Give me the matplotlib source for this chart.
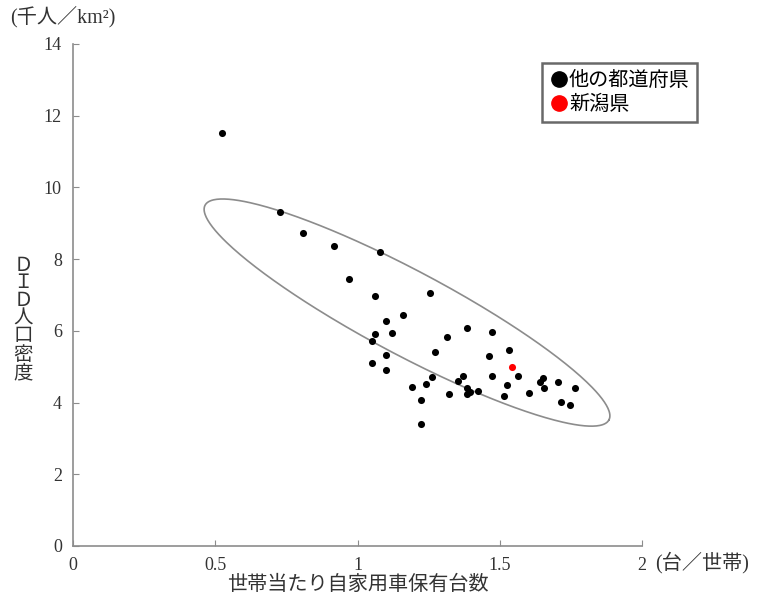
import numpy as np
import matplotlib.pyplot as plt
from matplotlib.lines import Line2D

plt.rcParams['font.family'] = ['Liberation Serif', 'Noto Sans CJK JP']

# 世帯当たり自家用車保有台数 (台/世帯), DID人口密度 (千人/km2)
other_x = [0.524, 0.728, 0.81, 0.918, 0.970, 1.079, 1.061, 1.255, 1.161, 1.100,
           1.061, 1.121, 1.050, 1.100, 1.050, 1.100, 1.193, 1.240, 1.222, 1.222,
           1.384, 1.474, 1.313, 1.272, 1.533, 1.462, 1.474, 1.563, 1.372, 1.263,
           1.354, 1.653, 1.641, 1.656, 1.705, 1.765, 1.384, 1.395, 1.384, 1.425,
           1.322, 1.524, 1.515, 1.604, 1.714, 1.746]
other_y = [11.52, 9.32, 8.72, 8.37, 7.44, 8.19, 6.96, 7.06, 6.44, 6.27,
           5.91, 5.93, 5.71, 5.33, 5.11, 4.92, 4.44, 4.52, 4.07, 3.39,
           6.09, 5.97, 5.82, 5.42, 5.47, 5.31, 4.73, 4.73, 4.73, 4.70,
           4.60, 4.69, 4.56, 4.41, 4.56, 4.42, 4.42, 4.30, 4.23, 4.33,
           4.24, 4.48, 4.19, 4.28, 4.02, 3.92]
niigata_x = [1.544]
niigata_y = [5.00]

xticks = [0, 0.5, 1, 1.5, 2]
xticklabels = ['0', '0.5', '1', '1.5', '2']
yticks = [0, 2, 4, 6, 8, 10, 12, 14]

# ellipse (center in data units, axes in pixels of the original plot)
ell_cx, ell_cy = 1.174, 6.51
ell_a, ell_b, ell_ang = 228.7, 42.0, 28.0
px_x, px_y = 284.5, 35.86

fig = plt.figure(figsize=(7.67, 5.96), dpi=100)
ax = fig.add_axes([73/767, 1-546/596, 569/767, 502/596])

t = np.linspace(0, 2*np.pi, 400)
th = np.radians(ell_ang)
dx = ell_a*np.cos(t)*np.cos(th) - ell_b*np.sin(t)*np.sin(th)
dy = ell_a*np.cos(t)*np.sin(th) + ell_b*np.sin(t)*np.cos(th)
ax.plot(ell_cx + dx/px_x, ell_cy - dy/px_y, color='#8c8c8c', lw=1.2)

ax.scatter(other_x, other_y, s=26, color='black', zorder=3, linewidths=0)
ax.scatter(niigata_x, niigata_y, s=26, color='red', zorder=3, linewidths=0)

ax.set_xlim(0, 2)
ax.set_ylim(0, 14)
ax.set_xticks(xticks)
ax.set_xticklabels(xticklabels)
ax.set_yticks(yticks)
for s in ['top', 'right']:
    ax.spines[s].set_visible(False)
for s in ['left', 'bottom']:
    ax.spines[s].set_color('#8c8c8c')
    ax.spines[s].set_linewidth(1.2)
ax.tick_params(direction='in', length=4, color='#8c8c8c', labelsize=13,
               labelcolor='#333333', pad=8)

fig.text(10/767, 1-17/596, '(千人／km²)', fontsize=14.5, color='#333333', va='center')
fig.text(655/767, 1-563/596, '(台／世帯)', fontsize=14.5, color='#333333', va='center')
fig.text(358/767, 1-585/596, '世帯当たり自家用車保有台数', fontsize=14.5,
         color='#333333', ha='center', va='center')
fig.text(23/767, 1-320/596, '\n'.join('ＤＩＤ人口密度'), fontsize=14,
         color='#333333', ha='center', va='center', linespacing=1.05)

handles = [Line2D([], [], marker='o', ls='', color='black', markersize=11),
           Line2D([], [], marker='o', ls='', color='red', markersize=11)]
leg = ax.legend(handles, ['他の都道府県', '新潟県'], loc='upper left',
                bbox_to_anchor=(0.824, 0.962), fancybox=False, frameon=True,
                handletextpad=0.0, handlelength=1.0, borderpad=0.35,
                labelspacing=0.15, borderaxespad=0,
                prop={'family': 'Noto Sans CJK JP', 'size': 14.5})
leg.get_frame().set_edgecolor('#444444')
leg.get_frame().set_linewidth(1.8)

fig.savefig('out.png', dpi=100)
